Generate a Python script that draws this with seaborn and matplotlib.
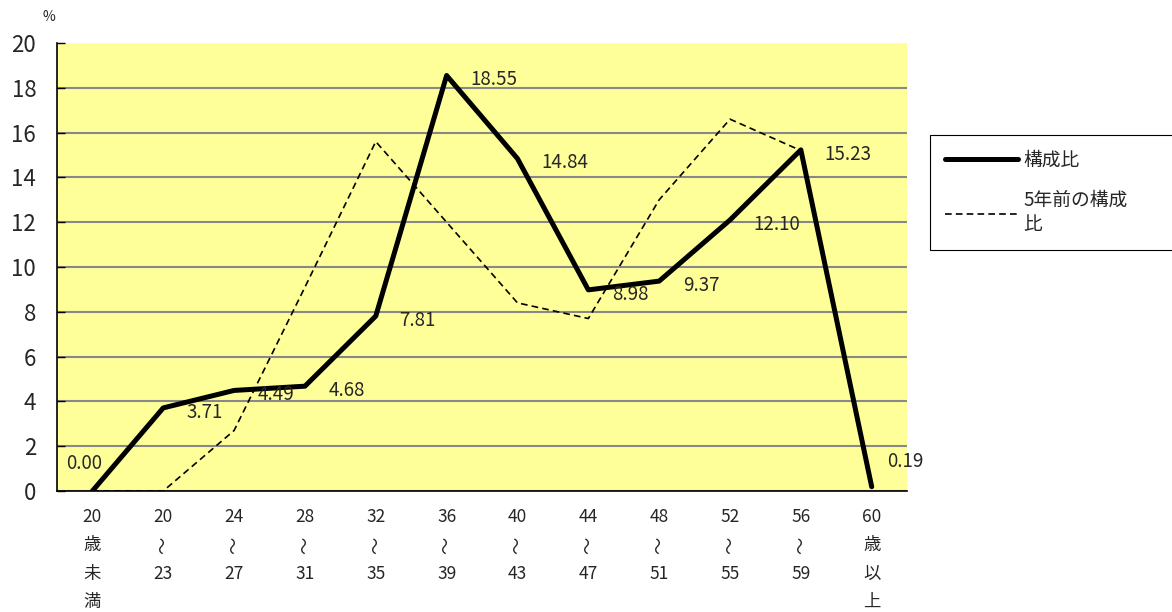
import numpy as np
import pandas as pd
import seaborn as sns
import matplotlib.pyplot as plt

# age groups (vertical text in the original; the wave dash is drawn rotated)
age_top = ["20", "20", "24", "28", "32", "36", "40", "44", "48", "52", "56", "60"]
age_rest = ["歳\n未\n満", "〜\n23", "〜\n27", "〜\n31", "〜\n35", "〜\n39",
            "〜\n43", "〜\n47", "〜\n51", "〜\n55", "〜\n59", "歳\n以\n上"]
ratio_now = [0.00, 3.71, 4.49, 4.68, 7.81, 18.55, 14.84, 8.98, 9.37, 12.10, 15.23, 0.19]
ratio_5y_ago = [0.0, 0.0, 2.7, 9.1, 15.6, 12.0, 8.4, 7.7, 13.0, 16.6, 15.2, np.nan]

df = pd.DataFrame({"pos": np.arange(len(age_top)),
                   "now": ratio_now, "before": ratio_5y_ago})

sns.set_style("white")
plt.rcParams['font.family'] = ['Noto Sans CJK JP', 'DejaVu Sans']

fig = plt.figure(figsize=(11.72, 6.12), dpi=100)
ax = fig.add_axes([0.0486, 0.1977, 0.7254, 0.732])
ax.set_facecolor("#FFFF99")

sns.lineplot(data=df, x="pos", y="now", ax=ax, color="black", linewidth=3.6,
             label="構成比")
sns.lineplot(data=df.dropna(), x="pos", y="before", ax=ax, color="black",
             linewidth=1.2, label="5年前の構成\n比")
ax.lines[1].set_dashes([4, 2.5])

# data labels, right of each point
for i, v in enumerate(ratio_now):
    dx, dy = 17, -3
    if i == 0:
        dx, dy = -19, 20
    elif i == len(ratio_now) - 1:
        dx, dy = 11, 18
    ax.annotate(f"{v:.2f}", (i, v), xytext=(dx, dy), textcoords="offset points",
                fontsize=13.5, va="center", ha="left")

ax.set_xlim(-0.5, 11.5)
ax.set_ylim(0, 20)
ax.set_yticks(range(0, 21, 2))

# category labels written top to bottom
ax.set_xticks(range(len(age_top)))
ax.set_xticklabels([])
trans = ax.get_xaxis_transform()
line_h = 28.5 / 448  # one text line in axes units
for i, (top, rest) in enumerate(zip(age_top, age_rest)):
    ax.text(i, -0.057, top, transform=trans, ha="center", va="center", fontsize=12.5)
    for j, ch in enumerate(rest.split("\n")):
        rot = 90 if ch == "〜" else 0
        ax.text(i, -0.057 - line_h * (j + 1), ch, transform=trans, ha="center",
                va="center", fontsize=12.5, rotation=rot)

ax.set_xticks(np.arange(0.5, 11.5, 1), minor=True)
ax.tick_params(axis="x", which="major", length=0)
ax.tick_params(axis="x", which="minor", direction="in", length=8, width=1, color="black")
ax.tick_params(axis="y", direction="in", length=6, width=1, color="black",
               labelsize=16, pad=15, left=True)
ax.set_xlabel("")
ax.set_ylabel("")

ax.yaxis.grid(True, color="#888888", linewidth=1.5)
ax.yaxis.get_gridlines()[-1].set_visible(False)
ax.set_axisbelow(True)

for side in ["top", "right"]:
    ax.spines[side].set_visible(False)
for side in ["left", "bottom"]:
    ax.spines[side].set_color("black")
    ax.spines[side].set_linewidth(1.2)

fig.text(0.036, 0.972, "%", fontsize=10, ha="left", va="center")

ax.legend_.remove()
handles, labels = ax.get_legend_handles_labels()
leg = fig.legend(handles, labels, loc="upper left",
                 bbox_to_anchor=(0.7935, 0.588, 0.25, 0.1914), mode="expand",
                 fontsize=13.5, frameon=True, fancybox=False, framealpha=1,
                 edgecolor="black", handlelength=3.9, handletextpad=0.3,
                 labelspacing=1.0, borderpad=0.8, borderaxespad=0)
leg.get_frame().set_linewidth(0.8)

fig.savefig("out.png", dpi=100)
